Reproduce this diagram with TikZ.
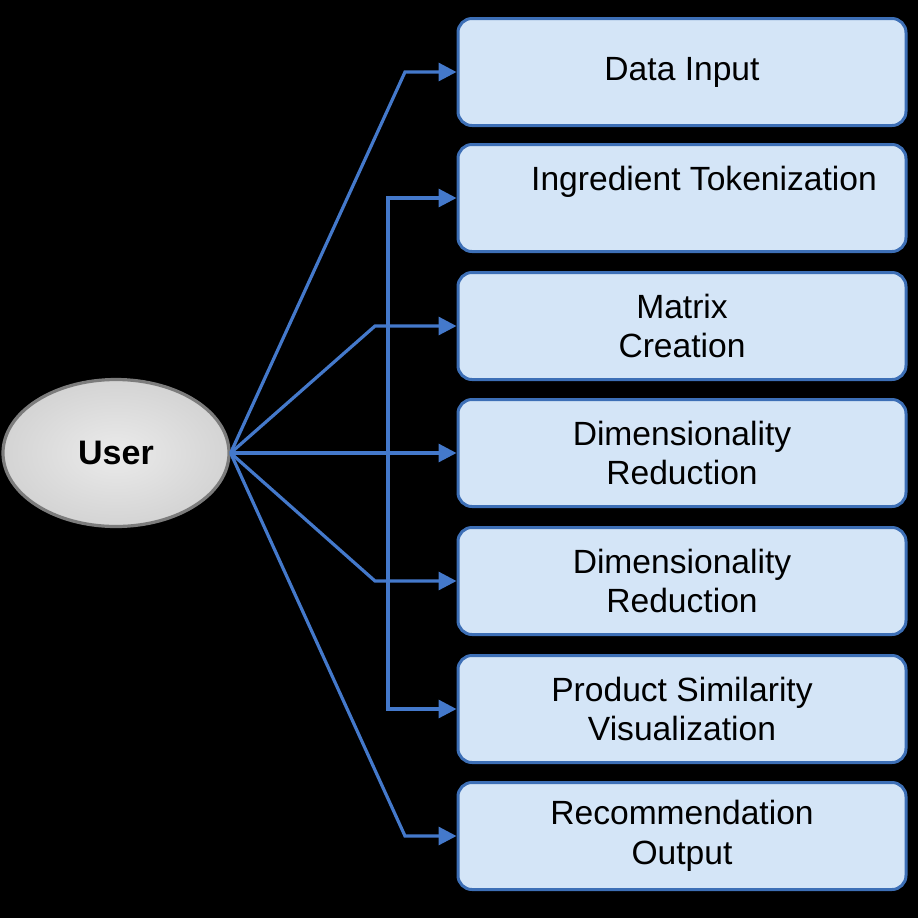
\documentclass[tikz,border=0pt]{standalone}
\usepackage{fontspec}
\setmainfont{Liberation Sans}
\usetikzlibrary{arrows.meta,shapes.geometric}
\definecolor{boxfill}{HTML}{D4E5F7}
\definecolor{boxline}{HTML}{3D6FB6}
\definecolor{connc}{HTML}{4479CB}
\definecolor{userline}{HTML}{7C7C7C}
\begin{document}
\begin{tikzpicture}[x=0.5pt,y=-0.5pt,
  stepbox/.style={rectangle, rounded corners=7pt, draw=boxline, line width=1.5pt,
    fill=boxfill, minimum width=224pt, minimum height=53.5pt, inner sep=0pt,
    align=center, font=\fontsize{16.8}{19.7}\selectfont, text=black},
  boxtext/.style={font=\fontsize{16.8}{19.7}\selectfont, text=black, inner sep=0pt},
  usernode/.style={ellipse, draw=userline, line width=1.6pt, inner color=white!92!black,
    outer color=white!83!black, minimum width=113pt, minimum height=73.5pt, inner sep=0pt,
    font=\fontsize{17}{19.7}\selectfont\bfseries, text=black},
  conn/.style={draw=connc, line width=1.6pt, -{Triangle[length=9pt,width=9pt]}},
  conn2/.style={draw=connc, line width=1.6pt, {Triangle[length=9pt,width=9pt]}-{Triangle[length=9pt,width=9pt]}}]
\fill[black] (0,0) rectangle (918,918);
\useasboundingbox (0,0) rectangle (918,918);

\node[usernode] (user) at (116,453) {User};

\node[stepbox] (b1) at (682,72) {Data Input};
\node[stepbox, label={[boxtext, xshift=11pt, yshift=8pt]center:Ingredient Tokenization}] (b2) at (682,198) {};
\node[stepbox] (b3) at (682,326) {Matrix\\Creation};
\node[stepbox] (b4) at (682,453) {Dimensionality\\Reduction};
\node[stepbox] (b5) at (682,581) {Dimensionality\\Reduction};
\node[stepbox] (b6) at (682,709) {Product Similarity\\Visualization};
\node[stepbox] (b7) at (682,836) {Recommendation\\Output};

\coordinate (k1) at (405,72);
\coordinate (k3) at (375,326);
\coordinate (k5) at (375,581);
\coordinate (k7) at (405,836);
\coordinate (v1) at (388,198);
\coordinate (v2) at (388,709);

\draw[conn2] (b2.west) -- (v1) -- (v2) -- (b6.west);
\draw[conn] (user.east) -- (k1) -- (b1.west);
\draw[conn] (user.east) -- (k3) -- (b3.west);
\draw[conn] (user.east) -- (b4.west);
\draw[conn] (user.east) -- (k5) -- (b5.west);
\draw[conn] (user.east) -- (k7) -- (b7.west);
\end{tikzpicture}
\end{document}
